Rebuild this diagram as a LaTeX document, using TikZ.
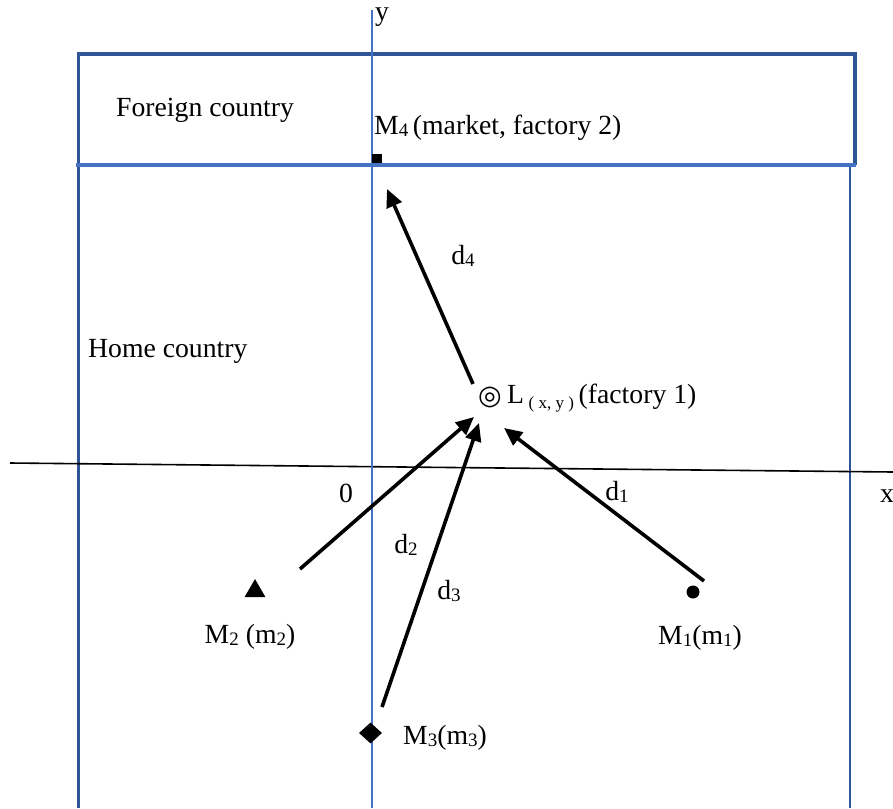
\documentclass[tikz,border=0pt]{standalone}
\usepackage{fontspec}
\setmainfont{Liberation Serif}
\newfontfamily\symfont{DejaVu Sans}
\usetikzlibrary{arrows.meta,shapes.geometric}
\definecolor{darkblue}{HTML}{2F5597}
\definecolor{lightblue}{HTML}{4472C4}
\newcommand{\lowtxt}[1]{\raisebox{-0.15ex}{\fontsize{19}{20}\selectfont #1}}
\newcommand{\lowsmall}[1]{\raisebox{-0.35ex}{\fontsize{17}{18}\selectfont #1}}
\begin{document}
\begin{tikzpicture}[x=1pt,y=-1pt,
  lbl/.style={inner sep=0pt, font=\fontsize{27.7}{32}\selectfont},
  arr/.style={line width=3.6pt, -{Triangle[length=18pt,width=16pt]}},
  marker/.style={fill=black, draw=none, inner sep=0pt}]
\useasboundingbox (0,0) rectangle (893,808);
% home country side lines
\draw[darkblue, line width=3pt] (78.5,53) -- (78.5,808);
\draw[darkblue, line width=2.4pt] (850,165) -- (850,808);
% foreign country box
\draw[darkblue, line width=3.2pt] (78.5,165) -- (78.5,54) -- (855,54) -- (855,165);
\draw[lightblue, line width=4.5pt] (76,165) -- (856,165);
% axes
\draw[black, line width=1.6pt] (10,463) -- (893,472);
\draw[lightblue, line width=1.6pt] (372,10) -- (372,808);
\node[lbl, anchor=base west] (ylab) at (375,21) {y};
\node[lbl, anchor=west] (xlab) at (880,496) {x};
\node[lbl] (zero) at (346,493) {0};
% texts
\node[lbl, anchor=west] (foreign) at (116,110) {Foreign country};
\node[lbl, anchor=west] (home) at (88,351) {Home country};
\node[lbl, anchor=west] (m4lab) at (374,128) {M\lowtxt{4}\,(market, factory 2)};
\node[marker, minimum width=10.5pt, minimum height=9.5pt] (m4) at (377,158.5) {};
\node[lbl, anchor=center] (Lsym) at (490,397) {\fontsize{27}{28}\symfont ◎};
\node[lbl, anchor=west] (Llab) at (507,398) {L\,\lowsmall{( x, y )}\,(factory 1)};
% markets
\node[marker, regular polygon, regular polygon sides=3, minimum size=24pt] (m2) at (255,591) {};
\node[marker, circle, minimum size=13pt] (m1) at (693,592) {};
\node[marker, diamond, minimum width=23pt, minimum height=21pt] (m3) at (370.5,733) {};
\node[lbl] (m2lab) at (250,637) {M\lowtxt{2} (m\lowtxt{2})};
\node[lbl] (m1lab) at (700,638) {M\lowtxt{1}(m\lowtxt{1})};
\node[lbl, anchor=west] (m3lab) at (403,738) {M\lowtxt{3}(m\lowtxt{3})};
% arrow endpoints
\coordinate (s4) at (473,384);
\coordinate (t4) at (387,189);
\coordinate (s2) at (300,569);
\coordinate (t2) at (474,417);
\coordinate (s3) at (382,707);
\coordinate (t3) at (479,423);
\coordinate (s1) at (704,581);
\coordinate (t1) at (504,428);
\draw[arr] (s4) -- (t4);
\draw[arr] (s2) -- (t2);
\draw[arr] (s3) -- (t3);
\draw[arr] (s1) -- (t1);
% distance labels
\node[lbl] (d4) at (463,256) {d\lowtxt{4}};
\node[lbl] (d1) at (617,492) {d\lowtxt{1}};
\node[lbl] (d2) at (406,545) {d\lowtxt{2}};
\node[lbl] (d3) at (449,591) {d\lowtxt{3}};
\end{tikzpicture}
\end{document}
